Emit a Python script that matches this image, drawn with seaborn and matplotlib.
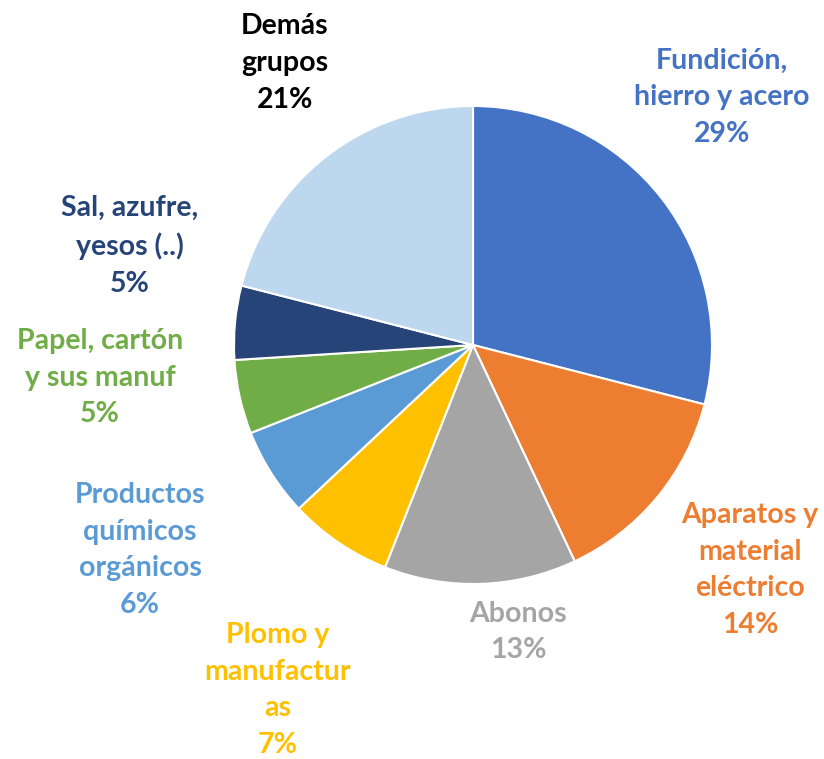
import matplotlib
matplotlib.use("Agg")
import matplotlib.pyplot as plt
import seaborn as sns

# data
labels = ["Fundición,\nhierro y acero", "Aparatos y\nmaterial\neléctrico", "Abonos",
          "Plomo y\nmanufactur\nas", "Productos\nquímicos\norgánicos",
          "Papel, cartón\ny sus manuf", "Sal, azufre,\nyesos (..)", "Demás\ngrupos"]
shares = [29, 14, 13, 7, 6, 5, 5, 21]

colors = ["#4472C4", "#ED7D31", "#A5A5A5", "#FFC000", "#5B9BD5", "#70AD47", "#264478", "#BDD7EE"]
text_colors = ["#4472C4", "#ED7D31", "#A5A5A5", "#FFC000", "#5B9BD5", "#70AD47", "#264478", "black"]
# label block centres in pixel space (x, y from top)
label_xy = [(722, 97), (750, 570), (518, 632), (278, 690), (140, 550), (100, 378), (130, 246), (285, 63)]

sns.set_theme(style="white")
plt.rcParams["font.family"] = ["Lato", "DejaVu Sans"]

W, H = 824, 759
fig = plt.figure(figsize=(W / 100, H / 100), dpi=100)
ax = fig.add_axes([0, 0, 1, 1])

ax.pie(shares, colors=colors, startangle=90, counterclock=False,
       center=(473, H - 345), radius=239,
       wedgeprops=dict(edgecolor="white", linewidth=1.5), frame=True)
ax.set_xlim(0, W)
ax.set_ylim(0, H)
ax.set_aspect("equal")
ax.axis("off")

for lab, val, (x, y), c in zip(labels, shares, label_xy, text_colors):
    ax.text(x, H - y, f"{lab}\n{val}%", ha="center", va="center", color=c,
            fontsize=20.5, fontweight="bold", linespacing=1.5)

fig.savefig("out.png", dpi=100, facecolor="white")
